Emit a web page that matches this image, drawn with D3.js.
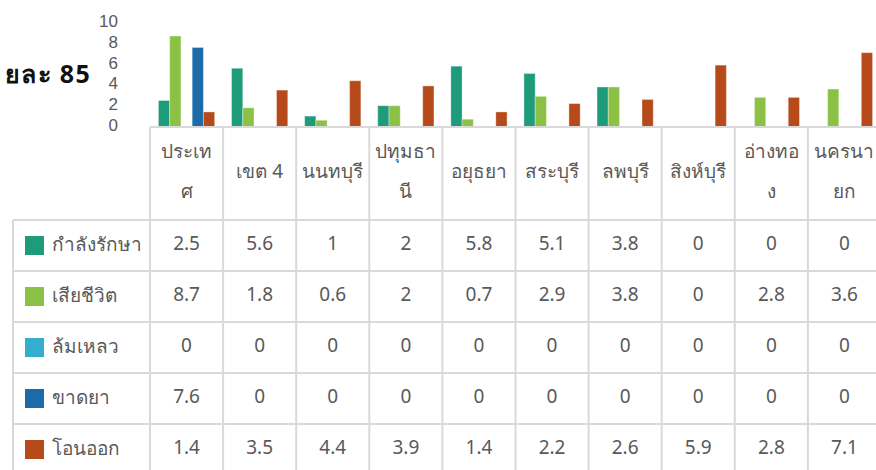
<!DOCTYPE html>
<html><head><meta charset="utf-8">
<script src="https://cdn.jsdelivr.net/npm/d3@7/dist/d3.min.js"></script>
<style>
html,body{margin:0;padding:0;background:#fff;overflow:hidden}
svg{display:block;font-family:"Noto Sans","DejaVu Sans",sans-serif}
</style></head>
<body><svg id="c" width="876" height="470"></svg>
<script>
const categories = ["ประเทศ","เขต 4","นนทบุรี","ปทุมธานี","อยุธยา","สระบุรี","ลพบุรี","สิงห์บุรี","อ่างทอง","นครนายก"];
const categoryLines = [["ประเท","ศ"],["เขต 4"],["นนทบุรี"],["ปทุมธา","นี"],["อยุธยา"],["สระบุรี"],["ลพบุรี"],["สิงห์บุรี"],["อ่างทอ","ง"],["นครนา","ยก"]];
const seriesNames = ["กำลังรักษา","เสียชีวิต","ล้มเหลว","ขาดยา","โอนออก"];
const seriesColors = ["#1E9B7A","#8BC145","#34AECE","#1C6AA8","#B64A1A"];
const treating = [2.5,5.6,1,2,5.8,5.1,3.8,0,0,0];
const died     = [8.7,1.8,0.6,2,0.7,2.9,3.8,0,2.8,3.6];
const failed   = [0,0,0,0,0,0,0,0,0,0];
const defaulted= [7.6,0,0,0,0,0,0,0,0,0];
const transfer = [1.4,3.5,4.4,3.9,1.4,2.2,2.6,5.9,2.8,7.1];
const yTicks = [0,2,4,6,8,10];
const titleText = "ยละ 85";

const seriesValues = [treating, died, failed, defaulted, transfer];
const svg = d3.select("#c");
const colW = 73.1, tableLeft = 150, legendLeft = 13;
const x0 = d3.scaleBand().domain(categories).range([tableLeft, tableLeft + colW*categories.length]).padding(0);
const gapHalf = x0.bandwidth()*0.75/6.5;
const x1 = d3.scaleBand().domain(seriesNames).range([gapHalf, x0.bandwidth()-gapHalf]).padding(0);
const y = d3.scaleLinear().domain([0,10]).range([126.5, 22.5]);

// title (partially visible in the reference)
svg.append("text").attr("x", 91).attr("y", 73).attr("text-anchor","end")
  .attr("dominant-baseline","central").attr("font-size", 25).attr("font-weight","bold")
  .attr("letter-spacing", 1.3).attr("fill","#111").text(titleText);

// y axis labels
const yAxis = d3.axisLeft(y).tickValues(yTicks).tickSize(0).tickPadding(0);
const gy = svg.append("g").attr("transform","translate(118,-1.5)").call(yAxis);
gy.select(".domain").remove();
gy.selectAll("text").attr("font-size",17).attr("fill","#595959").attr("font-family","inherit");

// bars
const gBars = svg.append("g");
categories.forEach((c,ci)=>{
  seriesNames.forEach((s,si)=>{
    const v = seriesValues[si][ci];
    if (v<=0) return;
    gBars.append("rect").attr("x", x0(c)+x1(s)).attr("width", x1.bandwidth())
      .attr("y", y(v)).attr("height", y(0)-y(v)).attr("fill", seriesColors[si])
      .attr("stroke","rgba(255,255,255,0.35)").attr("stroke-width",1);
  });
});

// table
const headTop = 127, headBot = 220, rowH = 51;
const right = tableLeft + colW*categories.length;
const lineCol = "#d9d9d9", lw = 2;
const gT = svg.append("g");
gT.append("line").attr("x1",tableLeft).attr("x2",right).attr("y1",headTop).attr("y2",headTop).attr("stroke",lineCol).attr("stroke-width",lw);
categories.forEach((c,i)=>{
  gT.append("line").attr("x1",x0(c)).attr("x2",x0(c)).attr("y1",headTop).attr("y2",headBot+rowH*seriesNames.length).attr("stroke",lineCol).attr("stroke-width",lw);
});
gT.append("line").attr("x1",right).attr("x2",right).attr("y1",headTop).attr("y2",headBot+rowH*seriesNames.length).attr("stroke",lineCol).attr("stroke-width",lw);
gT.append("line").attr("x1",legendLeft).attr("x2",legendLeft).attr("y1",headBot).attr("y2",headBot+rowH*seriesNames.length).attr("stroke",lineCol).attr("stroke-width",lw);
for (let r=0;r<=seriesNames.length;r++){
  gT.append("line").attr("x1",legendLeft).attr("x2",right).attr("y1",headBot+r*rowH).attr("y2",headBot+r*rowH).attr("stroke",lineCol).attr("stroke-width",lw);
}
// header labels
const hc = 170.5;
categories.forEach((c,i)=>{
  const lines = categoryLines[i];
  lines.forEach((t,li)=>{
    const yy = hc + (li - (lines.length-1)/2)*40;
    gT.append("text").attr("x", x0(c)+x0.bandwidth()/2).attr("y", yy)
      .attr("text-anchor","middle").attr("dominant-baseline","central")
      .attr("font-size",19).attr("fill","#595959").text(t);
  });
});
// rows
seriesNames.forEach((s,si)=>{
  const cy = headBot + si*rowH + rowH/2;
  gT.append("rect").attr("x",25).attr("y",cy-9.5).attr("width",19).attr("height",19).attr("fill",seriesColors[si]);
  gT.append("text").attr("x",52).attr("y",cy-2).attr("dominant-baseline","central")
    .attr("font-size",19).attr("fill","#595959").text(s);
  categories.forEach((c,ci)=>{
    gT.append("text").attr("x", x0(c)+x0.bandwidth()/2).attr("y", cy-3)
      .attr("text-anchor","middle").attr("dominant-baseline","central")
      .attr("font-size",19).attr("fill","#595959").text(seriesValues[si][ci]);
  });
});
</script></body></html>
